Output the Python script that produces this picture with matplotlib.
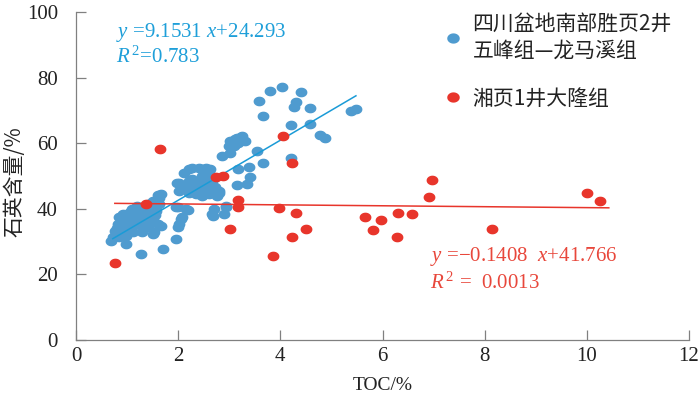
import numpy as np
import matplotlib
matplotlib.use("Agg")
import matplotlib.pyplot as plt
from matplotlib.path import Path
from matplotlib.lines import Line2D

# ---------------- data ----------------
blue_x = [0.69, 0.72, 0.76, 0.82, 0.85, 0.92, 1.05, 0.85, 0.98, 0.92, 0.98, 1.11, 1.11, 1.24, 1.31,
          1.44, 1.18, 1.24, 1.37, 1.44, 1.57, 1.50, 1.63, 1.60, 1.63, 1.66, 1.60, 1.66, 1.53, 1.50,
          1.28, 1.70, 1.95, 1.99, 2.02, 2.05, 2.08, 1.95, 2.15, 1.99,
          0.80, 0.90, 1.00, 1.05, 1.15, 1.20, 1.30, 1.35, 1.40, 1.45, 1.50, 1.55, 1.30, 1.40, 0.88,
          1.00, 1.10, 1.20, 1.55, 1.35,
          2.12, 2.21, 2.28, 2.41, 2.54, 2.63, 2.60, 2.70, 2.47, 2.02, 1.97, 2.15, 2.21, 2.34, 2.47,
          2.60, 2.76, 2.41, 2.54, 2.67, 2.47, 2.73, 2.28, 2.05, 2.80, 2.02, 2.28, 2.41, 2.54, 2.67,
          2.80, 2.21, 2.35, 2.50, 2.62, 2.20,
          2.70, 2.67, 2.68, 2.93, 2.93, 2.89, 2.20,
          2.85, 3.02, 3.09, 3.05, 2.99, 3.02, 3.12, 3.23, 3.31, 3.18, 3.15, 3.25, 3.54, 3.67, 3.38,
          3.41, 3.35, 3.15, 3.18,
          3.59, 3.80, 4.03, 4.41, 4.30, 4.27, 4.59, 3.66, 4.21, 4.59, 4.77, 4.87, 5.38, 5.48, 4.21]
blue_y = [30.3, 31.3, 33.3, 35.4, 37.4, 38.4, 38.9, 31.3, 31.8, 32.3, 29.3, 35.4, 32.8, 36.4, 34.3,
          35.8, 37.4, 39.4, 38.9, 38.4, 39.4, 42.4, 41.4, 44.2, 43.4, 44.4, 35.4, 34.8, 32.8, 32.3,
          26.1, 27.8, 30.8, 34.3, 35.3, 36.9, 37.4, 40.4, 39.9, 40.4,
          34.0, 35.0, 36.0, 34.0, 38.5, 35.5, 37.5, 40.5, 41.5, 40.0, 37.0, 38.0, 33.0, 34.5, 33.0,
          37.5, 40.0, 41.0, 41.0, 36.0,
          51.0, 52.0, 52.5, 52.5, 52.5, 52.0, 51.0, 49.5, 52.0, 48.0, 48.0, 46.5, 44.9, 44.4, 43.9,
          44.4, 43.9, 48.5, 49.0, 48.5, 50.0, 46.5, 49.0, 46.9, 45.5, 45.5, 45.5, 46.5, 45.5, 45.5,
          44.9, 48.5, 47.0, 47.5, 47.0, 47.0,
          39.9, 38.4, 37.9, 40.4, 40.9, 38.4, 39.5,
          56.1, 57.1, 59.1, 60.1, 59.1, 60.6, 61.4, 61.8, 60.6, 60.1, 61.6, 62.1, 57.6, 54.0, 52.7,
          49.7, 47.5, 47.3, 52.0,
          73.0, 75.8, 77.1, 75.5, 72.7, 71.0, 70.7, 68.2, 65.5, 66.0, 62.6, 61.6, 69.7, 70.4, 55.6]

red_x = [0.76, 1.38, 1.65, 2.75, 2.87, 4.05, 4.22, 3.18, 3.18, 3.01, 3.98, 4.30, 4.22, 4.51, 3.86,
         5.66, 5.97, 5.82, 6.31, 6.58, 6.29, 6.91, 6.97, 8.15, 10.01, 10.25]
red_y = [23.5, 41.4, 58.1, 49.7, 50.0, 62.1, 54.0, 42.6, 40.4, 33.8, 40.1, 38.7, 31.5, 33.8, 25.5,
         37.6, 36.7, 33.6, 38.7, 38.4, 31.5, 43.6, 48.8, 33.9, 44.7, 42.3]

blue_fit = (9.1531, 24.293)
red_fit = (-0.1408, 41.766)
blue_fit_range = (0.72, 5.48)
red_fit_range = (0.76, 10.43)

x_ticks = [0, 2, 4, 6, 8, 10, 12]
y_ticks = [0, 20, 40, 60, 80, 100]

blue_label = "四川盆地南部胜页2井\n五峰组—龙马溪组"
red_label = "湘页1井大隆组"
x_label = "TOC/%"
y_label = "石英含量/%"

# ---------------- style ----------------
plt.rcParams['font.family'] = ['Liberation Serif', 'Noto Sans CJK SC', 'DejaVu Sans']
plt.rcParams['mathtext.fontset'] = 'custom'
plt.rcParams['mathtext.rm'] = 'Liberation Serif'
plt.rcParams['mathtext.it'] = 'Liberation Serif:italic'

BLUE_PT = '#4f9bcf'
RED_PT = '#e8352b'
BLUE_LN = '#1a9bd7'
RED_LN = '#e8352b'
BLUE_TX = '#1e9fd9'
RED_TX = '#e8473b'
AX_COL = '#808080'

# elliptical marker (images slightly squashed)
t = np.linspace(0, 2 * np.pi, 60)
ell = Path(np.column_stack([np.cos(t), 0.82 * np.sin(t)]), closed=True)

fig = plt.figure(figsize=(7.0, 3.97), dpi=100)
ax = fig.add_axes([76 / 700, 1 - 340 / 397, (689 - 76) / 700, (340 - 12) / 397])

ax.scatter(blue_x, blue_y, s=72, marker=ell, color=BLUE_PT, linewidths=0, zorder=2)
bx = np.array(blue_fit_range)
ax.plot(bx, blue_fit[0] * bx + blue_fit[1], color=BLUE_LN, lw=1.1, zorder=3)
rx = np.array(red_fit_range)
ax.plot(rx, red_fit[0] * rx + red_fit[1], color=RED_LN, lw=1.1, zorder=3)
ax.scatter(red_x, red_y, s=72, marker=ell, color=RED_PT, linewidths=0, zorder=4)

ax.set_xlim(0, 12)
ax.set_ylim(0, 100)
ax.set_xticks(x_ticks)
ax.set_yticks(y_ticks)
for s in ['top', 'right']:
    ax.spines[s].set_visible(False)
for s in ['left', 'bottom']:
    ax.spines[s].set_color(AX_COL)
    ax.spines[s].set_linewidth(0.9)
ax.tick_params(axis='both', direction='in', length=7.5, width=0.9, color=AX_COL,
               labelsize=15, labelcolor='#222222')
ax.tick_params(axis='y', pad=13)
ax.tick_params(axis='x', pad=5)

ax.set_xlabel(x_label, fontsize=14, color='#222222', labelpad=8)
fig.text(14 / 700, 1 - 182 / 397, y_label, rotation=90, ha='center', va='center',
         fontsize=15, color='#222222', family=['Noto Sans CJK SC', 'DejaVu Sans'])

# equations
fig.text(116 / 700, 1 - 33 / 397, r"$y$ =9.1531 $x$+24.293", color=BLUE_TX, fontsize=15,
         ha='left', va='center')
fig.text(116 / 700, 1 - 57 / 397, r"$R^{\,2}$=0.783", color=BLUE_TX, fontsize=15,
         ha='left', va='center')
fig.text(430 / 700, 1 - 256 / 397, r"$y$ =−0.1408  $x$+41.766", color=RED_TX, fontsize=15,
         ha='left', va='center')
fig.text(430 / 700, 1 - 283 / 397, r"$R^{\,2}$ =  0.0013", color=RED_TX, fontsize=15,
         ha='left', va='center')

# legend
handles = [Line2D([], [], ls='none', marker=ell, markersize=9, color=BLUE_PT, mew=0),
           Line2D([], [], ls='none', marker=ell, markersize=9, color=RED_PT, mew=0)]
leg = fig.legend(handles, [blue_label, red_label], loc='upper left',
                 bbox_to_anchor=(434 / 700, 1 - 4 / 397), frameon=False,
                 prop={'family': ['Noto Sans CJK SC', 'DejaVu Sans'], 'size': 15},
                 handlelength=1.0, handletextpad=0.45, labelspacing=1.25, borderaxespad=0)
for txt in leg.get_texts():
    txt.set_color('#222222')
    txt.set_linespacing(1.3)

fig.savefig("out.png", dpi=100)
